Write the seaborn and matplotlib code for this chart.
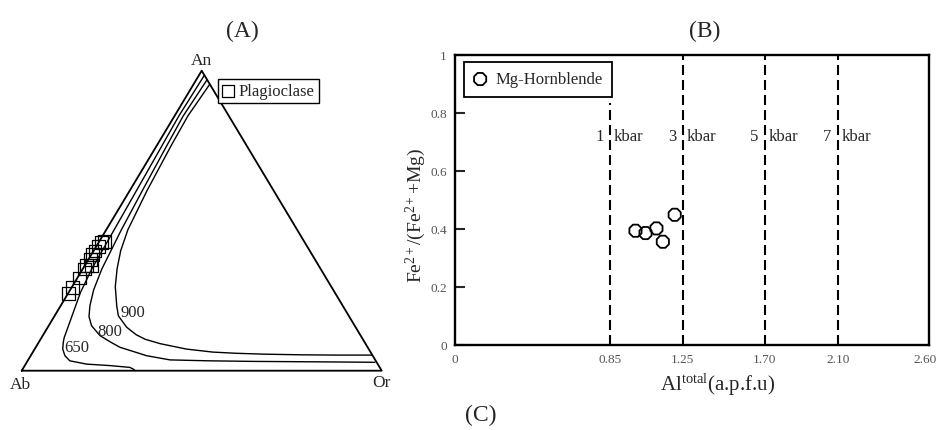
import numpy as np
import seaborn as sns
import matplotlib
matplotlib.use("Agg")
import matplotlib.pyplot as plt
from matplotlib.transforms import ScaledTranslation

# (A) An-Ab-Or ternary: values are mole fractions An and Or, Ab is the remainder
iso_650_an = [0.985, 0.85, 0.70, 0.55, 0.47, 0.34, 0.26, 0.20, 0.15, 0.11, 0.095,
              0.072, 0.05, 0.033, 0.022, 0.017, 0.011, 0.005, 0.0]
iso_650_or = [0.015, 0.012, 0.016, 0.020, 0.022, 0.025, 0.033, 0.045, 0.055, 0.063, 0.068,
              0.078, 0.095, 0.117, 0.169, 0.237, 0.295, 0.308, 0.315]
iso_800_an = [0.97, 0.85, 0.75, 0.60, 0.47, 0.34, 0.27, 0.217, 0.18, 0.15, 0.117,
              0.095, 0.078, 0.065, 0.05, 0.036, 0.033, 0.031, 0.030, 0.029, 0.028]
iso_800_or = [0.03, 0.024, 0.028, 0.035, 0.042, 0.053, 0.065, 0.081, 0.097, 0.119, 0.159,
              0.20, 0.234, 0.275, 0.322, 0.394, 0.50, 0.628, 0.75, 0.87, 0.967]
iso_900_an = [0.955, 0.85, 0.75, 0.60, 0.47, 0.40, 0.34, 0.28, 0.216, 0.183, 0.145,
              0.12, 0.105, 0.09, 0.072, 0.062, 0.058, 0.055, 0.053, 0.052, 0.052]
iso_900_or = [0.045, 0.037, 0.040, 0.048, 0.060, 0.075, 0.095, 0.120, 0.156, 0.177, 0.219,
              0.258, 0.29, 0.34, 0.422, 0.50, 0.568, 0.65, 0.75, 0.85, 0.946]
iso_names = ["650", "800", "900"]

plag_an = [0.428, 0.432, 0.414, 0.399, 0.386, 0.372, 0.352, 0.352, 0.339, 0.309, 0.276, 0.256]
plag_or = [0.008, 0.013, 0.006, 0.004, 0.003, 0.004, 0.018, 0.004, 0.004, 0.005, 0.003, 0.003]

corner_an = [0, 0, 1, 0]
corner_or = [0, 1, 0, 0]

# (B) Al-in-hornblende barometer
hbl_al = [0.99, 1.045, 1.105, 1.14, 1.205]
hbl_fe = [0.393, 0.385, 0.401, 0.355, 0.448]
kbar_names = ["1", "3", "5", "7"]
kbar_al = [0.85, 1.25, 1.70, 2.10]
kbar_top = [0.835, 1, 1, 1]
al_ticks = [0, 0.85, 1.25, 1.70, 2.10, 2.60]
al_ticklabels = ["0", "0.85", "1.25", "1.70", "2.10", "2.60"]
fe_ticks = [0, 0.2, 0.4, 0.6, 0.8, 1]
fe_ticklabels = ["0", "0.2", "0.4", "0.6", "0.8", "1"]


def tern(an, orr):
    an = np.asarray(an, dtype=float)
    orr = np.asarray(orr, dtype=float)
    return orr + an / 2, an


sns.set_style("white")
plt.rcParams["font.family"] = ["Liberation Serif", "DejaVu Serif"]
plt.rcParams["mathtext.fontset"] = "custom"
plt.rcParams["mathtext.rm"] = "Liberation Serif"
plt.rcParams["mathtext.it"] = "Liberation Serif:italic"

W, H = 939, 431
fig = plt.figure(figsize=(W / 100, H / 100), dpi=100)

# ---------- panel A ----------
ax_a = fig.add_axes([3.7 / W, (H - 386.7) / H, 396 / W, 330 / H])
tx, ty = tern(corner_an, corner_or)
sns.lineplot(x=tx, y=ty, sort=False, estimator=None, color="black", lw=1.3, ax=ax_a)
for an, orr in [(iso_650_an, iso_650_or), (iso_800_an, iso_800_or), (iso_900_an, iso_900_or)]:
    cx, cy = tern(an, orr)
    sns.lineplot(x=cx, y=cy, sort=False, estimator=None, color="black", lw=1.0, ax=ax_a)
px, py = tern(plag_an, plag_or)
sns.scatterplot(x=px, y=py, marker="s", s=85, facecolor="none", edgecolor="black",
                linewidth=0.9, label="Plagioclase", ax=ax_a, zorder=3)

ax_a.set_xlim(-0.05, 1.05)
ax_a.set_ylim(-0.05, 1.05)
ax_a.axis("off")

for name, (lx, ly) in zip(iso_names, [(0.154, 0.079), (0.245, 0.132), (0.308, 0.197)]):
    ax_a.text(lx, ly, name, fontsize=12, ha="center", va="center")
ax_a.text(0.5, 1.037, "An", fontsize=12.5, ha="center", va="center")
ax_a.text(-0.005, -0.044, "Ab", fontsize=12.5, ha="center", va="center")
ax_a.text(1.0, -0.038, "Or", fontsize=12.5, ha="center", va="center")

leg = ax_a.legend(loc="upper left", bbox_to_anchor=(0.541, 0.929), fontsize=12,
                  frameon=True, fancybox=False, framealpha=1, edgecolor="black",
                  borderaxespad=0, borderpad=0.25, handlelength=0.7, handletextpad=0.3,
                  scatterpoints=1)
leg.get_frame().set_linewidth(1.0)

# ---------- panel B ----------
ax_b = fig.add_axes([455 / W, (H - 345.7) / H, 474 / W, 290 / H])
sns.scatterplot(x=hbl_al, y=hbl_fe, marker="8", s=90, facecolor="none", edgecolor="black",
                linewidth=1.3, label="Mg-Hornblende", ax=ax_b, zorder=3)
for name, al, top in zip(kbar_names, kbar_al, kbar_top):
    ax_b.axvline(al, ymin=0, ymax=top, color="black", lw=1.5, dashes=(4.8, 2.4))
    ax_b.annotate(name, (al, 0.72), xytext=(-4.5, 0), textcoords="offset points",
                  ha="right", va="center", fontsize=12)
    ax_b.annotate("kbar", (al, 0.72), xytext=(2.5, 0), textcoords="offset points",
                  ha="left", va="center", fontsize=12)

ax_b.set_xlim(0, 2.6)
ax_b.set_ylim(0, 1)
ax_b.set_xticks(al_ticks)
ax_b.set_xticklabels(al_ticklabels)
ax_b.set_yticks(fe_ticks)
ax_b.set_yticklabels(fe_ticklabels)
ax_b.tick_params(axis="x", length=0, pad=6, labelsize=9.5, labelcolor="#555555")
ax_b.tick_params(axis="y", direction="in", length=7, width=1.5, pad=6,
                 labelsize=9.5, labelcolor="#555555", left=True)
# keep the last x label inside the figure, as in the reference
last = ax_b.get_xticklabels()[-1]
last.set_transform(last.get_transform() + ScaledTranslation(-4 / 100, 0, fig.dpi_scale_trans))
for sp in ax_b.spines.values():
    sp.set_visible(True)
    sp.set_color("black")
    sp.set_linewidth(1.7)

ax_b.set_xlabel(r"Al$^{\mathrm{total}}$(a.p.f.u)", fontsize=15)
ax_b.xaxis.set_label_coords(0.555, -0.09)
ax_b.set_ylabel(r"Fe$^{2+}$/(Fe$^{2+}$+Mg)", fontsize=14)
ax_b.yaxis.set_label_coords(-0.057, 0.449)

leg_b = ax_b.legend(loc="upper left", bbox_to_anchor=(0.0196, 0.974), fontsize=12,
                    frameon=True, fancybox=False, framealpha=1, edgecolor="black",
                    borderaxespad=0, borderpad=0.55, handlelength=0.8, handletextpad=0.5,
                    scatterpoints=1)
leg_b.get_frame().set_linewidth(1.3)

# panel letters
fig.text(242 / W, 1 - 31 / H, "(A)", fontsize=17, ha="center", va="center")
fig.text(705 / W, 1 - 31 / H, "(B)", fontsize=17, ha="center", va="center")
fig.text(481 / W, 1 - 415 / H, "(C)", fontsize=17, ha="center", va="center")

fig.savefig("out.png", dpi=100)
